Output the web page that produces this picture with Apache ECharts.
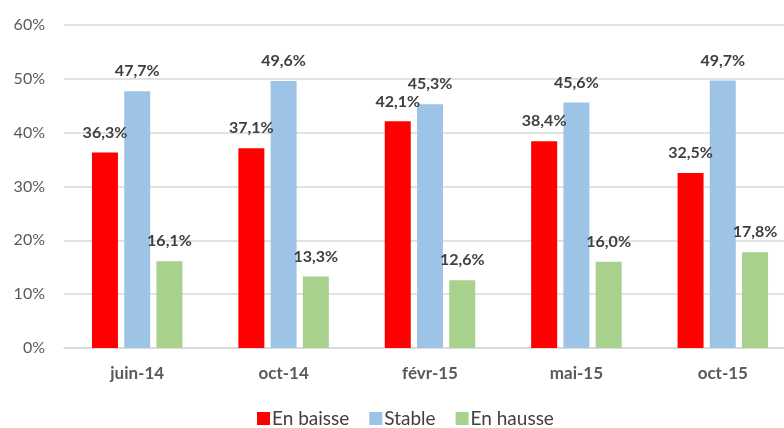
<!DOCTYPE html>
<html>
<head>
<meta charset="utf-8">
<script src="https://cdn.jsdelivr.net/npm/echarts@6/dist/echarts.min.js"></script>
<style>
  html, body { margin: 0; padding: 0; background: #fff; overflow: hidden; }
  #main { width: 800px; height: 428px; }
</style>
</head>
<body>
<div id="main"></div>
<script>
// données
var categories = ['juin-14', 'oct-14', 'févr-15', 'mai-15', 'oct-15'];
var enBaisse = [36.3, 37.1, 42.1, 38.4, 32.5];
var stable = [47.7, 49.6, 45.3, 45.6, 49.7];
var enHausse = [16.1, 13.3, 12.6, 16.0, 17.8];
var yTicks = [0, 10, 20, 30, 40, 50, 60];

var fontFamily = 'Lato, "Open Sans", sans-serif';

function pct(p) {
  return p.value.toFixed(1).replace('.', ',') + '%';
}

var labelStyle = {
  show: true,
  position: 'top',
  distance: 12,
  formatter: pct,
  color: '#404040',
  fontWeight: 'bold',
  fontSize: 16,
  fontFamily: fontFamily
};

var chart = echarts.init(document.getElementById('main'));
var option = {
  animation: false,
  textStyle: { fontFamily: fontFamily },
  // le graphique d'origine est coupé à droite
  grid: { left: 64, width: 732, top: 25, bottom: 80 },
  legend: {
    data: ['En baisse', 'Stable', 'En hausse'],
    left: 257,
    top: 409,
    padding: 0,
    itemWidth: 13,
    itemHeight: 13,
    itemGap: 20,
    icon: 'rect',
    textStyle: { color: '#404040', fontSize: 19, fontFamily: fontFamily, padding: [0, 0, 0, -3] }
  },
  xAxis: {
    type: 'category',
    data: categories,
    axisLine: { lineStyle: { color: '#d9d9d9', width: 1.5 } },
    axisTick: { show: false },
    axisLabel: { color: '#595959', fontSize: 17, fontWeight: 'bold', margin: 17, fontFamily: fontFamily }
  },
  yAxis: {
    type: 'value',
    min: yTicks[0],
    max: yTicks[yTicks.length - 1],
    interval: 10,
    axisLine: { show: false },
    axisTick: { show: false },
    splitLine: { lineStyle: { color: '#d9d9d9', width: 1.5 } },
    axisLabel: { color: '#595959', fontSize: 16, margin: 19, formatter: '{value}%', fontFamily: fontFamily }
  },
  series: [
    {
      name: 'En baisse', type: 'bar', data: enBaisse,
      itemStyle: { color: '#ff0000' },
      barWidth: 26, barGap: '24%', barCategoryGap: '38%',
      label: labelStyle
    },
    {
      name: 'Stable', type: 'bar', data: stable,
      itemStyle: { color: '#9dc3e6' },
      barWidth: 26,
      label: labelStyle
    },
    {
      name: 'En hausse', type: 'bar', data: enHausse,
      itemStyle: { color: '#a9d18e' },
      barWidth: 26,
      label: labelStyle
    }
  ]
};
chart.setOption(option);
</script>
</body>
</html>
